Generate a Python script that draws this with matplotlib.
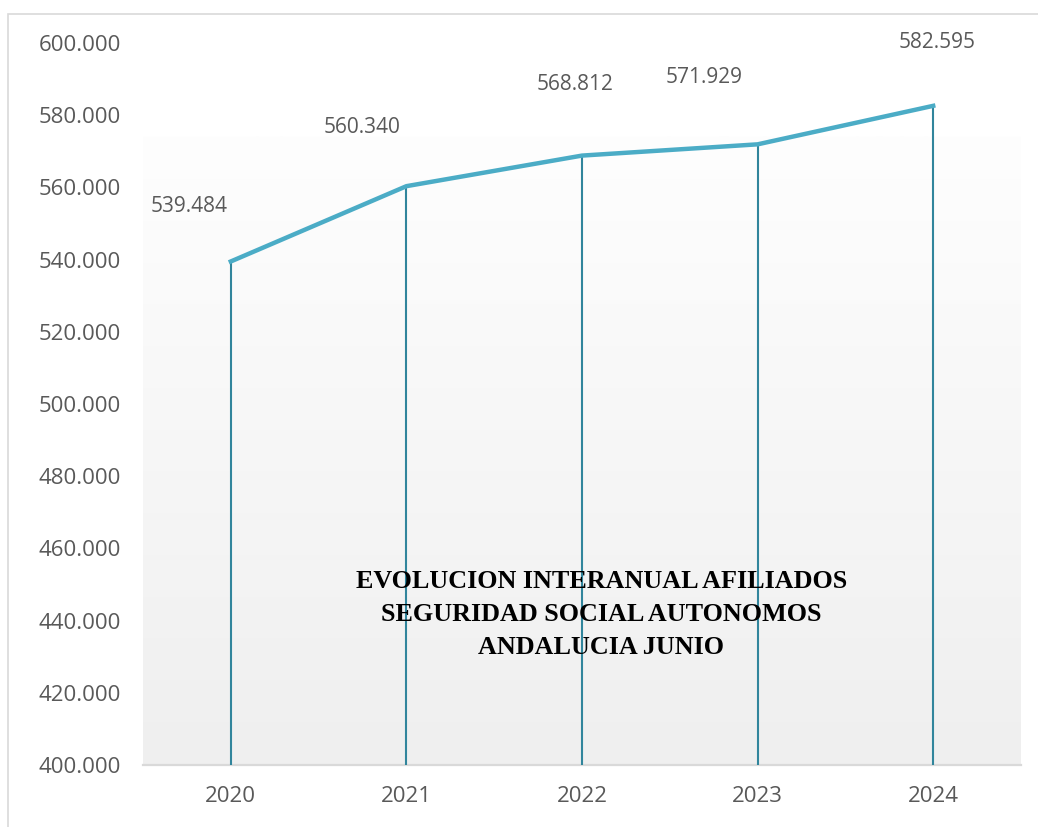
import matplotlib

matplotlib.use("Agg")

import matplotlib.pyplot as plt
import numpy as np
from matplotlib.colors import LinearSegmentedColormap
from matplotlib.patches import Rectangle
from matplotlib.ticker import FuncFormatter

years = ["2020", "2021", "2022", "2023", "2024"]
afiliados = [539484, 560340, 568812, 571929, 582595]
title_lines = [
    "EVOLUCION INTERANUAL AFILIADOS",
    "SEGURIDAD SOCIAL AUTONOMOS",
    "ANDALUCIA JUNIO",
]

# label offsets in pixels (Excel had them dragged around by hand)
label_offsets = [(-42, 55), (-44, 59), (-7, 71), (-53, 67), (4, 63)]

LINE_COLOR = "#4BACC6"
DROP_COLOR = "#31859C"
TEXT_COLOR = "#595959"
GRID_GRAY = "#D9D9D9"


def fmt_miles(v, _pos=None):
    return f"{v:,.0f}".replace(",", ".")


def main():
    plt.rcParams["font.family"] = ["Open Sans", "DejaVu Sans"]

    fig = plt.figure(figsize=(10.38, 8.27), dpi=100)
    fig.patch.set_facecolor("white")

    # outer chart border, cut off on the right and bottom like the screenshot
    top = 1 - 14 / 827
    fig.add_artist(Rectangle((8 / 1038, -0.2), 1.2, top + 0.2,
                             transform=fig.transFigure, fill=False,
                             edgecolor=GRID_GRAY, linewidth=1.2))

    ax = fig.add_axes([143 / 1038, 62 / 827, 878 / 1038, 722 / 827])
    x = np.arange(len(years))

    ax.set_xlim(-0.5, len(years) - 0.5)
    ax.set_ylim(400000, 600000)

    # plot area gradient fill
    cmap = LinearSegmentedColormap.from_list("bg", ["#FEFEFE", "#EFEFEF"])
    grad = np.linspace(0, 1, 256)[:, None]
    ax.imshow(grad, extent=(-0.5, len(years) - 0.5, 400000, 574000),
              aspect="auto", cmap=cmap, origin="upper", zorder=0)

    ax.vlines(x, 400000, afiliados, color=DROP_COLOR, linewidth=1.5, zorder=2)
    ax.plot(x, afiliados, color=LINE_COLOR, linewidth=3.2,
            solid_joinstyle="round", zorder=3)

    for xi, v, (dx, dy) in zip(x, afiliados, label_offsets):
        ax.annotate(fmt_miles(v), (xi, v), xytext=(dx * 0.72, dy * 0.72),
                    textcoords="offset points", ha="center", va="center",
                    fontsize=15, color=TEXT_COLOR)

    ax.text(0.522, 0.209, "\n".join(title_lines), transform=ax.transAxes,
            ha="center", va="center", fontsize=18.8, fontweight="bold",
            family=["Liberation Serif", "DejaVu Serif"], linespacing=1.55,
            color="black", zorder=4)

    ax.set_xticks(x)
    ax.set_xticklabels(years)
    ax.set_yticks(np.arange(400000, 600001, 20000))
    ax.yaxis.set_major_formatter(FuncFormatter(fmt_miles))
    ax.tick_params(axis="both", length=0, labelsize=16, colors=TEXT_COLOR)
    ax.tick_params(axis="y", pad=16)
    ax.tick_params(axis="x", pad=15)

    for side in ("left", "right", "top"):
        ax.spines[side].set_visible(False)
    ax.spines["bottom"].set_color(GRID_GRAY)
    ax.spines["bottom"].set_linewidth(1.6)
    ax.spines["bottom"].set_zorder(1)
    ax.set_facecolor("white")

    fig.savefig("out.png", dpi=100)
    plt.close(fig)


if __name__ == "__main__":
    main()
